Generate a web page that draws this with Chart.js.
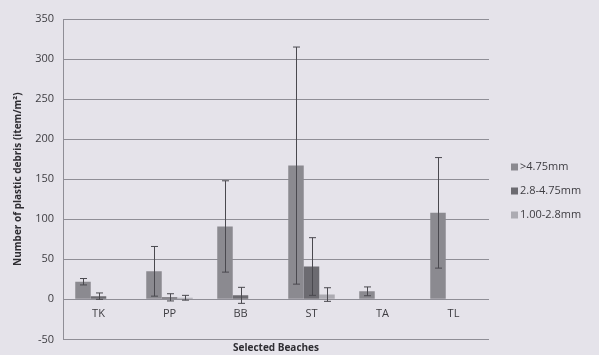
<!DOCTYPE html>
<html>
<head>
<meta charset="utf-8">
<script src="https://cdn.jsdelivr.net/npm/chart.js@4/dist/chart.umd.min.js"></script>
<style>
  html, body { margin: 0; padding: 0; background: #e5e3ea; }
  #wrap { width: 599px; height: 355px; }
</style>
</head>
<body>
<div id="wrap"><canvas id="c" width="599" height="355"></canvas></div>
<script>
// Plastic debris counts per beach, split by particle size class
const beaches = ['TK', 'PP', 'BB', 'ST', 'TA', 'TL'];
const sizeClasses = ['>4.75mm', '2.8-4.75mm', '1.00-2.8mm'];

const coarse = [22, 35, 91, 167, 10, 108];        // >4.75mm
const medium = [4, 2.5, 5, 41, 0, 0];             // 2.8-4.75mm
const fine   = [0, 2, 0, 6, 0, 0];                // 1.00-2.8mm

// Standard deviations (null = no error bar)
const coarseErr = [4, 31, 57, 148, 5.5, 69];
const mediumErr = [4, 4.5, 10, 36, null, null];
const fineErr   = [null, 3, null, 8.5, null, null];

const yTicks = { min: -50, max: 350, step: 50 };

const colors = ['#8b8a90', '#6c6b71', '#acabb2'];
const textColor = '#3e3d42';
const gridColor = '#8f8e96';

// Vertical error bars with caps, placed through the chart's own scales
const errorBars = {
  id: 'errorBars',
  afterDatasetsDraw(chart) {
    const ctx = chart.ctx;
    const y = chart.scales.y;
    ctx.save();
    ctx.strokeStyle = '#4a494f';
    ctx.lineWidth = 1;
    chart.data.datasets.forEach((ds, i) => {
      const meta = chart.getDatasetMeta(i);
      meta.data.forEach((bar, j) => {
        const e = ds.errors[j];
        if (e == null) return;
        const v = ds.data[j];
        const x = Math.round(bar.x) + 0.5;
        const top = y.getPixelForValue(v + e);
        const bot = y.getPixelForValue(v - e);
        ctx.beginPath();
        ctx.moveTo(x, top); ctx.lineTo(x, bot);
        ctx.moveTo(x - 3.5, top); ctx.lineTo(x + 3.5, top);
        ctx.moveTo(x - 3.5, bot); ctx.lineTo(x + 3.5, bot);
        ctx.stroke();
      });
    });
    ctx.restore();
  }
};

// Category names sit just under the zero line, as on a crossing axis
const categoryLabels = {
  id: 'categoryLabels',
  afterDraw(chart) {
    const ctx = chart.ctx;
    const x = chart.scales.x, y = chart.scales.y;
    const base = y.getPixelForValue(0);
    ctx.save();
    ctx.font = '11px "Open Sans"';
    ctx.fillStyle = textColor;
    ctx.textAlign = 'center';
    ctx.textBaseline = 'middle';
    chart.data.labels.forEach((lab, i) => {
      ctx.fillText(lab, x.getPixelForValue(i), base + 15);
    });
    ctx.restore();
  }
};

// Legend column to the right of the plot
const sideLegend = {
  id: 'sideLegend',
  afterDraw(chart) {
    const ctx = chart.ctx;
    ctx.save();
    ctx.font = '11px "Open Sans"';
    ctx.textBaseline = 'middle';
    const x0 = 511, y0 = 167, gap = 24;
    chart.data.datasets.forEach((ds, i) => {
      const yy = y0 + i * gap;
      ctx.fillStyle = ds.backgroundColor;
      ctx.fillRect(x0, yy - 3.5, 7, 7);
      ctx.fillStyle = textColor;
      ctx.fillText(ds.label, x0 + 9, yy);
    });
    ctx.restore();
  }
};

new Chart(document.getElementById('c'), {
  type: 'bar',
  data: {
    labels: beaches,
    datasets: [
      { label: sizeClasses[0], data: coarse, errors: coarseErr, backgroundColor: colors[0] },
      { label: sizeClasses[1], data: medium, errors: mediumErr, backgroundColor: colors[1] },
      { label: sizeClasses[2], data: fine, errors: fineErr, backgroundColor: colors[2] }
    ]
  },
  options: {
    responsive: false,
    animation: false,
    devicePixelRatio: 1,
    layout: { padding: { left: 12, right: 110, top: 19, bottom: 0 } },
    datasets: { bar: { categoryPercentage: 0.655, barPercentage: 1.0 } },
    plugins: { legend: { display: false }, tooltip: { enabled: false } },
    scales: {
      x: {
        grid: { display: false, drawTicks: false },
        border: { display: false },
        ticks: { display: false },
        title: {
          display: true, text: 'Selected Beaches', color: '#2e2d32',
          font: { family: 'Open Sans', size: 10, weight: 'bold' }, padding: 0
        },
        afterFit(s) { s.height = 15; }
      },
      y: {
        min: yTicks.min, max: yTicks.max,
        grid: { color: gridColor, lineWidth: 1, drawTicks: false },
        border: { display: true, color: gridColor, width: 1 },
        ticks: {
          stepSize: yTicks.step, color: textColor,
          font: { family: 'Open Sans', size: 11 }, padding: 9
        },
        title: {
          display: true, text: 'Number of plastic debris (item/m²)', color: '#2e2d32',
          font: { family: 'Open Sans', size: 10, weight: 'bold' }, padding: 0
        },
        afterFit(s) { s.width = 51; }
      }
    }
  },
  plugins: [errorBars, categoryLabels, sideLegend]
});
</script>
</body>
</html>
